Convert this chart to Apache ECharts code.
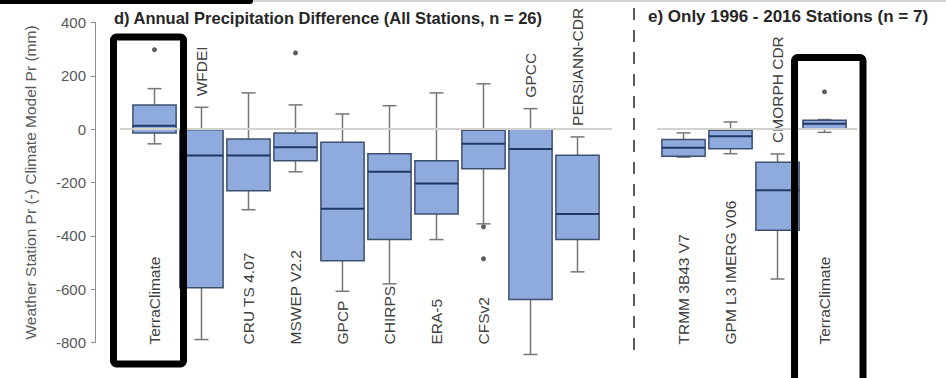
<!DOCTYPE html>
<html>
<head>
<meta charset="utf-8">
<script src="https://cdn.jsdelivr.net/npm/echarts@6/dist/echarts.min.js"></script>
<style>
  html, body { margin: 0; padding: 0; background: #ffffff; }
  #chart { width: 946px; height: 378px; }
</style>
</head>
<body>
<div id="chart"></div>
<script>
// ---- Panel d: annual precipitation difference, all stations (n = 26) ----
const allProducts = ['TerraClimate', 'WFDEI', 'CRU TS 4.07', 'MSWEP V2.2', 'GPCP',
                     'CHIRPS', 'ERA-5', 'CFSv2', 'GPCC', 'PERSIANN-CDR'];
// five-number summaries, mm
const allLow  = [-55, -789, -302, -160, -608, -580, -414, -355, -845, -535];
const allQ1   = [-14, -595, -231, -118, -493, -414, -318, -148, -639, -414];
const allMed  = [13,  -99,  -99,  -68, -298, -160, -204,  -55,  -74, -318];
const allQ3   = [91,   -2,  -37,  -14,  -49,  -92, -118,   -4,    2,  -98];
const allHigh = [152,  82,  136,   91,   57,   88,  136,  170,   77,  -29];
// outliers as [product index, value]
const allOutliers = [[0, 298], [3, 286], [7, -366], [7, -486]];
// products whose name sits above the upper whisker
const allNameAbove = [false, true, false, false, false, false, false, false, true, true];

// ---- Panel e: only 1996 - 2016 stations (n = 7) ----
const recentProducts = ['TRMM 3B43 V7', 'GPM L3 IMERG V06', 'CMORPH CDR', 'TerraClimate'];
const recentLow  = [-105,  -92, -562, -12];
const recentQ1   = [-102,  -73, -379,   2];
const recentMed  = [-70,   -27, -229,  20];
const recentQ3   = [-39,    -4, -124,  33];
const recentHigh = [-14,    27,  -93,  36];
const recentOutliers = [[3, 140]];
const recentNameAbove = [false, false, true, false];

// value axis ticks
const yMin = -800, yMax = 400, yStep = 200;

const FONT = '"Liberation Sans", Arial, sans-serif';

function boxRows(low, q1, med, q3, high) {
  return low.map((v, i) => [i, v, q1[i], med[i], q3[i], high[i]]);
}
function nameRows(high, above) {
  return high.map((v, i) => [i, above[i] ? v : yMin, above[i] ? 1 : 0]);
}

function renderBox(params, api) {
  const i = api.value(0);
  const lo = api.coord([i, api.value(1)]);
  const q1 = api.coord([i, api.value(2)]);
  const md = api.coord([i, api.value(3)]);
  const q3 = api.coord([i, api.value(4)]);
  const hi = api.coord([i, api.value(5)]);
  const half = api.size([1, 0])[0] * 0.46;
  const cap = 7;
  const x = lo[0];
  const whisker = { stroke: '#767676', lineWidth: 1.5 };
  return {
    type: 'group',
    children: [
      { type: 'line', shape: { x1: x, y1: hi[1], x2: x, y2: q3[1] }, style: whisker },
      { type: 'line', shape: { x1: x - cap, y1: hi[1], x2: x + cap, y2: hi[1] }, style: whisker },
      { type: 'line', shape: { x1: x, y1: q1[1], x2: x, y2: lo[1] }, style: whisker },
      { type: 'line', shape: { x1: x - cap, y1: lo[1], x2: x + cap, y2: lo[1] }, style: whisker },
      { type: 'rect', shape: { x: x - half, y: q3[1], width: 2 * half, height: q1[1] - q3[1] },
        style: { fill: '#8FAADC', stroke: '#3E5070', lineWidth: 1.5 } },
      { type: 'line', shape: { x1: x - half, y1: md[1], x2: x + half, y2: md[1] },
        style: { stroke: '#1F3864', lineWidth: 2 } }
    ]
  };
}

function nameRenderer(names) {
  return function (params, api) {
    const i = api.value(0);
    const p = api.coord([i, api.value(1)]);
    const above = api.value(2) === 1;
    return {
      type: 'text',
      x: p[0],
      y: p[1] + (above ? -11 : 2),
      rotation: Math.PI / 2,
      style: {
        text: names[params.dataIndex],
        fill: '#404040',
        font: '15.5px ' + FONT,
        align: 'left',
        verticalAlign: 'middle'
      }
    };
  };
}

// horizontal reference line at zero difference
function zeroLine() {
  return {
    silent: true,
    symbol: ['none', 'none'],
    label: { show: false },
    lineStyle: { color: '#d4d2cc', width: 2, type: 'solid' },
    data: [{ yAxis: 0 }]
  };
}

const chart = echarts.init(document.getElementById('chart'), null, { renderer: 'svg' });

chart.setOption({
  animation: false,
  backgroundColor: '#ffffff',
  title: [
    {
      text: 'd) Annual Precipitation Difference (All Stations, n = 26)',
      left: 328, top: 9, textAlign: 'center', padding: 0,
      textStyle: { fontFamily: FONT, fontSize: 16.5, fontWeight: 'bold', color: '#262626' }
    },
    {
      text: 'e) Only 1996 - 2016 Stations (n = 7)',
      left: 788, top: 8, textAlign: 'center', padding: 0,
      textStyle: { fontFamily: FONT, fontSize: 17, fontWeight: 'bold', color: '#262626' }
    }
  ],
  grid: [
    { left: 120, width: 492, top: 22.5, height: 320 },
    { left: 657, width: 200, top: 22.5, height: 320 }
  ],
  xAxis: [
    { gridIndex: 0, type: 'value', min: -0.734, max: 9.734, show: false,
      axisLine: { onZero: false } },
    { gridIndex: 1, type: 'value', min: -0.564, max: 3.691, show: false,
      axisLine: { onZero: false } }
  ],
  yAxis: [
    {
      gridIndex: 0, type: 'value', min: yMin, max: yMax, interval: yStep, offset: 25,
      name: 'Weather Station Pr (-) Climate Model Pr (mm)',
      nameLocation: 'middle', nameGap: 57,
      nameTextStyle: { fontFamily: FONT, fontSize: 15.5, color: '#595959' },
      axisLine: { show: true, onZero: false, lineStyle: { color: '#8c8c8c', width: 1 } },
      axisTick: { show: true, length: 4, lineStyle: { color: '#8c8c8c' } },
      axisLabel: { fontFamily: FONT, fontSize: 15, color: '#595959', margin: 9 },
      splitLine: { show: false }
    },
    {
      gridIndex: 1, type: 'value', min: yMin, max: yMax, interval: yStep, show: false,
      axisLine: { onZero: false },
      splitLine: { show: false }
    }
  ],
  series: [
    {
      type: 'scatter', xAxisIndex: 0, yAxisIndex: 0, z: 1,
      data: allOutliers, symbolSize: 5, itemStyle: { color: '#333333' },
      markLine: zeroLine()
    },
    {
      type: 'scatter', xAxisIndex: 1, yAxisIndex: 1, z: 1,
      data: recentOutliers, symbolSize: 5, itemStyle: { color: '#333333' },
      markLine: zeroLine()
    },
    {
      type: 'custom', xAxisIndex: 0, yAxisIndex: 0, z: 2,
      data: boxRows(allLow, allQ1, allMed, allQ3, allHigh),
      encode: { x: 0, y: [1, 2, 3, 4, 5] },
      renderItem: renderBox
    },
    {
      type: 'custom', xAxisIndex: 1, yAxisIndex: 1, z: 2,
      data: boxRows(recentLow, recentQ1, recentMed, recentQ3, recentHigh),
      encode: { x: 0, y: [1, 2, 3, 4, 5] },
      renderItem: renderBox
    },
    {
      type: 'custom', xAxisIndex: 0, yAxisIndex: 0, z: 3, silent: true,
      data: nameRows(allHigh, allNameAbove),
      encode: { x: 0, y: 1 },
      renderItem: nameRenderer(allProducts)
    },
    {
      type: 'custom', xAxisIndex: 1, yAxisIndex: 1, z: 3, silent: true,
      data: nameRows(recentHigh, recentNameAbove),
      encode: { x: 0, y: 1 },
      renderItem: nameRenderer(recentProducts)
    }
  ]
});

// Highlight frames around the TerraClimate boxes, panel separator and header strip
const leftTc = chart.convertToPixel({ xAxisIndex: 0, yAxisIndex: 0 }, [0, 0]);
const rightTc = chart.convertToPixel({ xAxisIndex: 1, yAxisIndex: 1 }, [3, 0]);
chart.setOption({
  graphic: [
    { type: 'rect', left: -2, top: -3, shape: { width: 255, height: 7, r: 3 },
      style: { fill: '#000000' }, z: 10 },
    { type: 'line', shape: { x1: 253, y1: 1, x2: 946, y2: 1 },
      style: { stroke: '#c4c4c4', lineWidth: 1.5 }, z: 10 },
    { type: 'line', shape: { x1: 634, y1: 8, x2: 634, y2: 356 },
      style: { stroke: '#595959', lineWidth: 2, lineDash: [12, 10] }, z: 10 },
    { type: 'rect', shape: { x: leftTc[0] - 41, y: 37, width: 70, height: 327, r: 3 },
      style: { fill: 'none', stroke: '#000000', lineWidth: 7 }, z: 10 },
    { type: 'rect', shape: { x: rightTc[0] - 30, y: 57.5, width: 68.5, height: 335, r: 3 },
      style: { fill: 'none', stroke: '#000000', lineWidth: 7 }, z: 10 }
  ]
});
</script>
</body>
</html>
